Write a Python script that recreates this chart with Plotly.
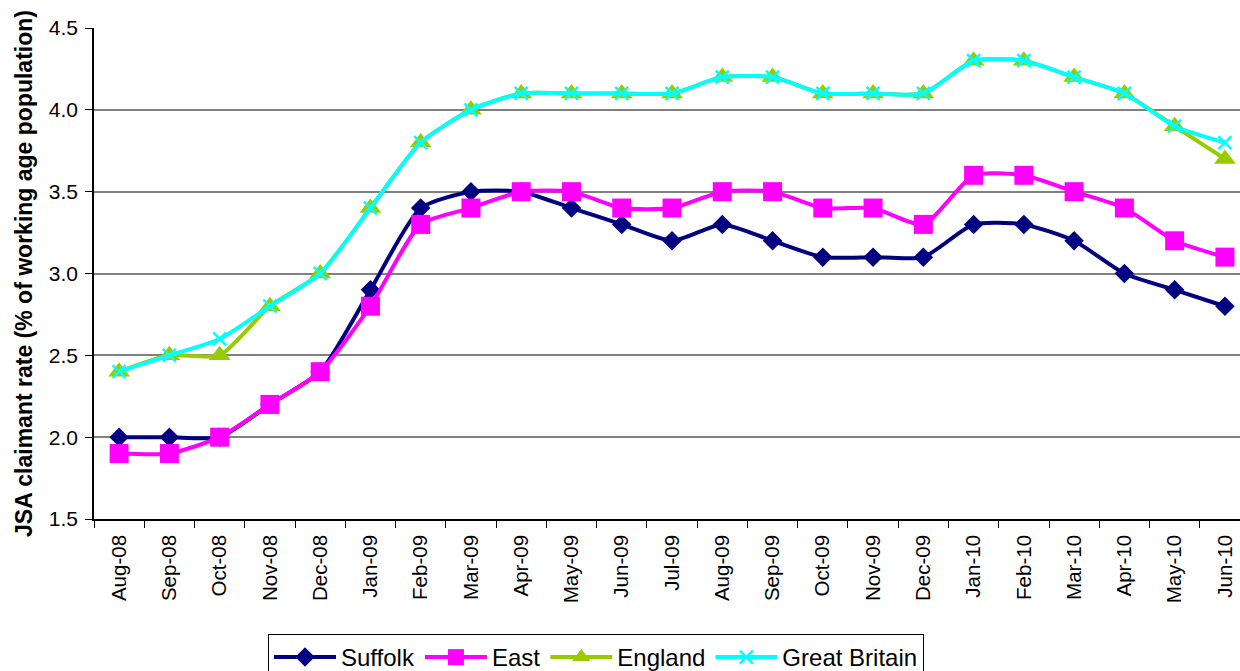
import plotly.graph_objects as go

months = ["Aug-08", "Sep-08", "Oct-08", "Nov-08", "Dec-08", "Jan-09", "Feb-09", "Mar-09",
          "Apr-09", "May-09", "Jun-09", "Jul-09", "Aug-09", "Sep-09", "Oct-09", "Nov-09",
          "Dec-09", "Jan-10", "Feb-10", "Mar-10", "Apr-10", "May-10", "Jun-10"]

suffolk = [2.0, 2.0, 2.0, 2.2, 2.4, 2.9, 3.4, 3.5, 3.5, 3.4, 3.3, 3.2, 3.3, 3.2, 3.1, 3.1,
           3.1, 3.3, 3.3, 3.2, 3.0, 2.9, 2.8]
east = [1.9, 1.9, 2.0, 2.2, 2.4, 2.8, 3.3, 3.4, 3.5, 3.5, 3.4, 3.4, 3.5, 3.5, 3.4, 3.4,
        3.3, 3.6, 3.6, 3.5, 3.4, 3.2, 3.1]
england = [2.4, 2.5, 2.5, 2.8, 3.0, 3.4, 3.8, 4.0, 4.1, 4.1, 4.1, 4.1, 4.2, 4.2, 4.1, 4.1,
           4.1, 4.3, 4.3, 4.2, 4.1, 3.9, 3.7]
great_britain = [2.4, 2.5, 2.6, 2.8, 3.0, 3.4, 3.8, 4.0, 4.1, 4.1, 4.1, 4.1, 4.2, 4.2, 4.1, 4.1,
                 4.1, 4.3, 4.3, 4.2, 4.1, 3.9, 3.8]

y_ticks = [1.5, 2.0, 2.5, 3.0, 3.5, 4.0, 4.5]

fig = go.Figure()

fig.add_trace(go.Scatter(
    x=months, y=suffolk, name="Suffolk", mode="lines+markers",
    line=dict(color="#000080", width=4, shape="spline", smoothing=0.6),
    marker=dict(symbol="diamond", size=15, color="#000080"),
))
fig.add_trace(go.Scatter(
    x=months, y=east, name="East", mode="lines+markers",
    line=dict(color="#FF00FF", width=4, shape="spline", smoothing=0.6),
    marker=dict(symbol="square", size=19, color="#FF00FF"),
))
fig.add_trace(go.Scatter(
    x=months, y=england, name="England", mode="lines+markers",
    line=dict(color="#99CC00", width=4, shape="spline", smoothing=0.6),
    marker=dict(symbol="triangle-up", size=19, color="#99CC00"),
))
fig.add_trace(go.Scatter(
    x=months, y=great_britain, name="Great Britain", mode="lines+markers",
    line=dict(color="#00FFFF", width=4, shape="spline", smoothing=0.6),
    marker=dict(symbol="x-thin", size=13, color="#00FFFF",
                line=dict(color="#00FFFF", width=2.5)),
))

W, H = 1240, 671
ml, mr, mt, mb = 94, 0, 28, 152

fig.update_layout(
    width=W, height=H,
    margin=dict(l=ml, r=mr, t=mt, b=mb),
    paper_bgcolor="white", plot_bgcolor="white",
    font=dict(family="Liberation Sans, Arial, sans-serif", size=21, color="black"),
    showlegend=True,
    legend=dict(
        orientation="h",
        xref="container", yref="container",
        x=268 / W, xanchor="left",
        y=(H - 634) / H, yanchor="top",
        bordercolor="black", borderwidth=1,
        font=dict(family="Liberation Sans, Arial, sans-serif", size=24, color="black"),
        itemwidth=62,
        tracegroupgap=0,
    ),
    xaxis=dict(
        type="category",
        range=[-0.5, 22.3],
        tickangle=-90,
        ticks="outside", ticklen=7, tickcolor="black", tickwidth=1,
        tickson="boundaries",
        ticklabelstandoff=6,
        showline=True, linecolor="black", linewidth=1.5,
        showgrid=False,
        tickfont=dict(size=20.5),
    ),
    yaxis=dict(
        range=[1.5, 4.5],
        tickvals=y_ticks,
        ticktext=[f"{v:.1f}" for v in y_ticks],
        ticks="outside", ticklen=7, tickcolor="black",
        ticklabelstandoff=3,
        showline=True, linecolor="black", linewidth=1.5,
        showgrid=True, gridcolor="#808080", gridwidth=1.5,
        zeroline=False,
        tickfont=dict(size=21),
        title=dict(text="<b>JSA claimant rate (% of working age population)</b>",
                   font=dict(size=23), standoff=10),
    ),
)

fig.write_html("out.html", config={"displayModeBar": False},
               post_script="document.body.style.margin='0';")
